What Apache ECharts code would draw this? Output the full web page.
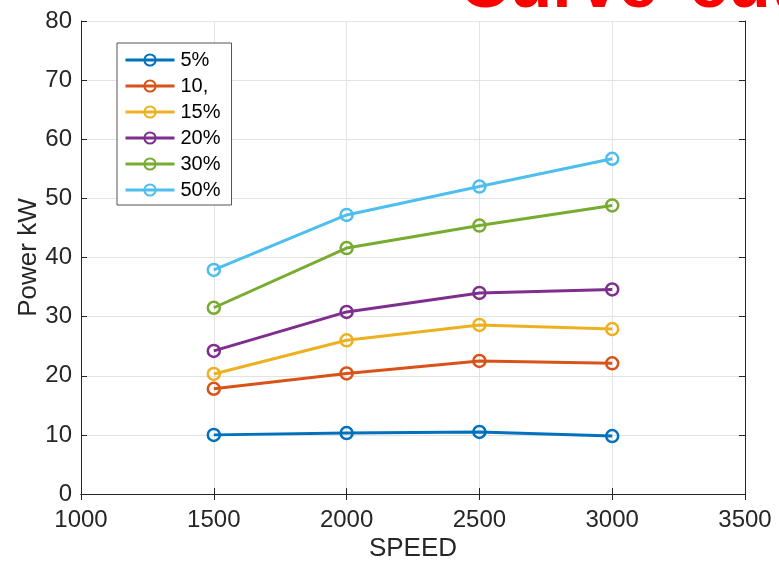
<!DOCTYPE html>
<html>
<head>
<meta charset="utf-8">
<script src="https://cdn.jsdelivr.net/npm/echarts@6/dist/echarts.min.js"></script>
<style>
  html, body { margin: 0; padding: 0; background: #fff; }
  #chart { width: 779px; height: 562px; }
</style>
</head>
<body>
<div id="chart"></div>
<script>
// Engine speed (x) and output power (kW) per load level
const speeds = [1500, 2000, 2500, 3000];
const seriesNames = ['5%', '10,', '15%', '20%', '30%', '50%'];
const power5 = [10.0, 10.3, 10.5, 9.8];
const power10 = [17.8, 20.4, 22.5, 22.1];
const power15 = [20.3, 26.0, 28.6, 27.9];
const power20 = [24.2, 30.8, 34.0, 34.6];
const power30 = [31.5, 41.6, 45.4, 48.8];
const power50 = [37.9, 47.2, 52.0, 56.7];
const xTicks = [1000, 1500, 2000, 2500, 3000, 3500];
const yTicks = [0, 10, 20, 30, 40, 50, 60, 70, 80];

const colors = ['#0072BD', '#D95319', '#EDB120', '#7E2F8E', '#77AC30', '#4DBEEE'];
const allPower = [power5, power10, power15, power20, power30, power50];

const FONT = '"Liberation Sans", Arial, Helvetica, sans-serif';
const AXIS_COLOR = '#262626';

const series = allPower.map((vals, i) => ({
  name: seriesNames[i],
  type: 'line',
  data: speeds.map((s, k) => [s, vals[k]]),
  symbol: 'circle',
  symbolSize: 12,
  lineStyle: { color: colors[i], width: 3 },
  itemStyle: { color: 'rgba(255,255,255,0)', borderColor: colors[i], borderWidth: 2.5 },
  emphasis: { disabled: true },
  animation: false
}));

const baseX = {
  type: 'value',
  min: xTicks[0],
  max: xTicks[xTicks.length - 1],
  interval: 500,
  axisLine: { show: true, lineStyle: { color: AXIS_COLOR, width: 1 } },
  axisTick: { show: true, inside: true, length: 6, lineStyle: { color: AXIS_COLOR } },
  splitLine: { show: false }
};
const baseY = {
  type: 'value',
  min: yTicks[0],
  max: yTicks[yTicks.length - 1],
  interval: 10,
  axisLine: { show: true, onZero: false, lineStyle: { color: AXIS_COLOR, width: 1 } },
  axisTick: { show: true, inside: true, length: 6, lineStyle: { color: AXIS_COLOR } },
  splitLine: { show: false }
};

// Red banner text, partly running off the top edge
const bannerStyle = { fontFamily: FONT, fontSize: 70, fontWeight: 'bold', fill: '#ff0000' };

const chart = echarts.init(document.getElementById('chart'), null, { renderer: 'canvas' });
chart.setOption({
  animation: false,
  backgroundColor: '#ffffff',
  grid: { left: 81, right: 34, top: 21, bottom: 68, containLabel: false, outerBoundsMode: 'none' },
  xAxis: [
    Object.assign({}, baseX, {
      position: 'bottom',
      name: 'SPEED',
      nameLocation: 'middle',
      nameGap: 42,
      nameMoveOverlap: false,
      nameTextStyle: { fontFamily: FONT, fontSize: 26, color: AXIS_COLOR },
      axisLabel: { fontFamily: FONT, fontSize: 24, color: AXIS_COLOR, margin: 14, formatter: v => String(v) },
      splitLine: { show: true, lineStyle: { color: '#e3e3e3', width: 1 } }
    }),
    Object.assign({}, baseX, { position: 'top', axisLabel: { show: false } })
  ],
  yAxis: [
    Object.assign({}, baseY, {
      position: 'left',
      name: 'Power kW',
      nameLocation: 'middle',
      nameGap: 39,
      nameMoveOverlap: false,
      nameTextStyle: { fontFamily: FONT, fontSize: 26, color: AXIS_COLOR },
      axisLabel: { fontFamily: FONT, fontSize: 24, color: AXIS_COLOR, margin: 9, formatter: v => String(v) },
      splitLine: { show: true, lineStyle: { color: '#e3e3e3', width: 1 } }
    }),
    Object.assign({}, baseY, { position: 'right', axisLabel: { show: false } })
  ],
  legend: {
    orient: 'vertical',
    left: 117,
    top: 43,
    padding: [7, 11, 5, 7],
    itemWidth: 49,
    itemHeight: 14,
    itemGap: 6,
    backgroundColor: '#ffffff',
    borderColor: '#555555',
    borderWidth: 1,
    borderRadius: 0,
    selectedMode: false,
    data: seriesNames,
    lineStyle: { width: 3 },
    textStyle: { fontFamily: FONT, fontSize: 20, color: '#000000', padding: [0, 0, 0, 1] }
  },
  graphic: [
    { type: 'text', left: 459, top: -47, silent: true, z: 100,
      style: Object.assign({ text: 'Curve' }, bannerStyle) },
    { type: 'text', left: 689, top: -47, silent: true, z: 100,
      style: Object.assign({ text: 'cut' }, bannerStyle) }
  ],
  series: series
});
</script>
</body>
</html>
